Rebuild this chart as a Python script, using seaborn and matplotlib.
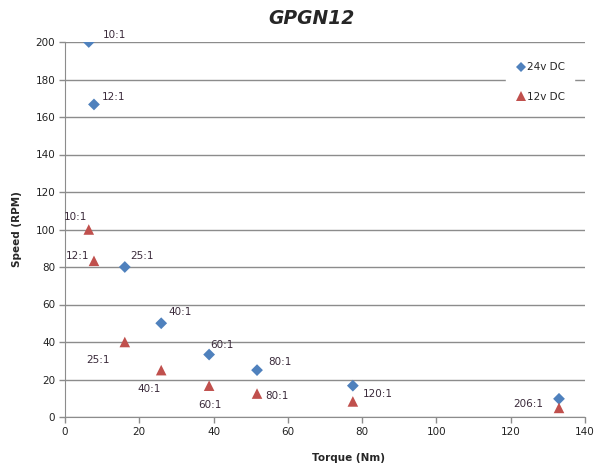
import numpy as np
import pandas as pd
import matplotlib
matplotlib.use("Agg")
import matplotlib.pyplot as plt
import seaborn as sns

# data
ratios = ["10:1", "12:1", "25:1", "40:1", "60:1", "80:1", "120:1", "206:1"]
torque = [6.4, 7.8, 16.1, 25.9, 38.8, 51.7, 77.5, 133.0]
speed_24v = [200, 166.7, 80, 50, 33.3, 25, 16.7, 9.7]
speed_12v = [100, 83.3, 40, 25, 16.7, 12.5, 8.3, 4.85]

d24 = pd.DataFrame({"torque": torque, "speed": speed_24v, "series": "24v DC"})
d12 = pd.DataFrame({"torque": torque, "speed": speed_12v, "series": "12v DC"})

sns.set_style("white")
plt.rcParams["font.family"] = ["DejaVu Sans"]

fig = plt.figure(figsize=(5.97, 4.71), dpi=100)
ax = fig.add_axes([65 / 597, 54 / 471, 520 / 597, 375 / 471])

sns.scatterplot(data=d24, x="torque", y="speed", hue="series", palette=["#4F81BD"],
                marker="D", s=36, linewidth=0, ax=ax, zorder=3)
sns.scatterplot(data=d12, x="torque", y="speed", hue="series", palette=["#C0504D"],
                marker="^", s=58, linewidth=0, ax=ax, zorder=3)

ax.set_xlim(0, 140)
ax.set_ylim(0, 200)
ax.set_xticks(np.arange(0, 141, 20))
ax.set_yticks(np.arange(0, 201, 20))
ax.yaxis.grid(True, color="#8c8c8c", linewidth=1)
ax.xaxis.grid(False)
for s in ["top", "right"]:
    ax.spines[s].set_visible(False)
for s in ["left", "bottom"]:
    ax.spines[s].set_color("#8c8c8c")
ax.tick_params(axis="both", which="both", direction="out", length=4, width=1,
               color="#8c8c8c", labelsize=7.5, labelcolor="#222222", pad=3)
ax.tick_params(axis="y", left=True)
ax.tick_params(axis="x", bottom=True)

ax.set_xlabel("Torque (Nm)", fontsize=7.5, fontweight="bold")
ax.xaxis.set_label_coords((349 - 65) / 520, -(453 - 417) / 375)
ax.set_ylabel("Speed (RPM)", fontsize=7.5, fontweight="bold", labelpad=10)
fig.suptitle("GPGN12", x=311 / 597, y=1 - 18 / 471, va="center",
             fontsize=13.5, fontweight="bold", style="italic")

tc = "#3a2a3a"
# labels for 24v series (offset points)
off24 = [(10, 3), (6, 3), (4, 6), (5, 6), (1, 5), (8, 4), (7, -8), (-33, -6)]
for i, r in enumerate(ratios):
    ax.annotate(r, (torque[i], speed_24v[i]), xytext=off24[i], textcoords="offset points",
                fontsize=7.5, color=tc)
# labels for 12v series
off12 = {0: (-18, 7), 1: (-20, 1), 2: (-28, -15), 3: (-17, -16), 4: (-8, -16), 5: (6, -4)}
for i, o in off12.items():
    ax.annotate(ratios[i], (torque[i], speed_12v[i]), xytext=o, textcoords="offset points",
                fontsize=7.5, color=tc)

h, l = ax.get_legend_handles_labels()
leg = ax.legend(h, l, loc="upper right", bbox_to_anchor=(0.988, 0.982), frameon=True,
                fontsize=7.5, handletextpad=0.0, handlelength=1.2, labelspacing=1.9,
                borderpad=0.8, markerscale=0.9)
leg.get_frame().set_edgecolor("white")
leg.get_frame().set_facecolor("white")
leg.get_frame().set_alpha(1)

fig.savefig("out.png", dpi=100)
